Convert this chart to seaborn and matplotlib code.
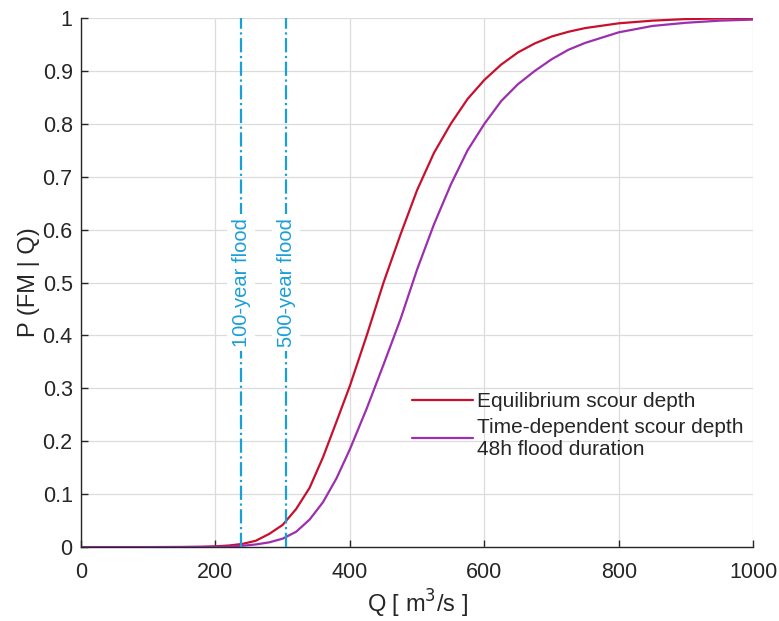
import numpy as np
import pandas as pd
import matplotlib
matplotlib.use("Agg")
import matplotlib.pyplot as plt
import seaborn as sns

# Equilibrium scour depth: caudal Q [m3/s] y P(FM | Q)
q_eq = [0, 100, 150, 180, 200, 220, 240, 260, 280, 300, 320, 340, 360, 380, 400, 425,
        450, 475, 500, 525, 550, 575, 600, 625, 650, 675, 700, 725, 750, 800, 850, 900,
        950, 1000]
p_eq = [0, 0, 0.0002, 0.0006, 0.0015, 0.003, 0.006, 0.012, 0.025, 0.042, 0.072, 0.112,
        0.17, 0.237, 0.305, 0.40, 0.50, 0.59, 0.675, 0.745, 0.80, 0.847, 0.883, 0.912,
        0.935, 0.952, 0.965, 0.974, 0.981, 0.99, 0.995, 0.998, 0.999, 1.0]

# Time-dependent scour depth (48h)
q_t = [0, 100, 150, 200, 220, 240, 260, 280, 300, 320, 340, 360, 380, 400, 425, 450,
       475, 500, 525, 550, 575, 600, 625, 650, 675, 700, 725, 750, 800, 850, 900, 950, 1000]
p_t = [0, 0, 0.0001, 0.0005, 0.001, 0.0025, 0.005, 0.009, 0.016, 0.029, 0.052, 0.085,
       0.13, 0.185, 0.262, 0.345, 0.43, 0.525, 0.61, 0.685, 0.75, 0.80, 0.843, 0.875,
       0.90, 0.922, 0.94, 0.953, 0.973, 0.985, 0.991, 0.995, 0.997]

serie_eq = "Equilibrium scour depth"
serie_t = "Time-dependent scour depth\n48h flood duration"

crecidas = [238, 305]
etiquetas_crecidas = ["100-year flood", "500-year flood"]

df = pd.DataFrame({
    "Q": q_eq + q_t,
    "P": p_eq + p_t,
    "serie": [serie_eq] * len(q_eq) + [serie_t] * len(q_t),
})

sns.set_style("white")
plt.rcParams["font.family"] = ["Liberation Sans", "DejaVu Sans"]
plt.rcParams["xtick.direction"] = "in"
plt.rcParams["ytick.direction"] = "in"

fig = plt.figure(figsize=(7.79, 6.21), dpi=100)
ax = fig.add_axes([0.104, 0.119, 0.863, 0.852])

colores = {serie_eq: "#c8102e", serie_t: "#9b2fae"}
sns.lineplot(data=df, x="Q", y="P", hue="serie", palette=colores, linewidth=1.6, ax=ax)

azul = "#1a9fd8"
for xq, txt in zip(crecidas, etiquetas_crecidas):
    ax.axvline(xq, color=azul, linestyle="-.", linewidth=1.6, zorder=3)
    ax.text(xq, 0.5, txt, rotation=90, color=azul, fontsize=14.5, ha="center", va="center",
            zorder=4, bbox=dict(facecolor="white", edgecolor="none", pad=3))

ax.set_xlim(0, 1000)
ax.set_ylim(0, 1)
ax.set_xticks([0, 200, 400, 600, 800, 1000])
ax.set_yticks(np.round(np.arange(0, 1.01, 0.1), 1))
ax.set_yticklabels(["0", "0.1", "0.2", "0.3", "0.4", "0.5", "0.6", "0.7", "0.8", "0.9", "1"])
ax.tick_params(labelsize=15.5, length=5, width=1, colors="#262626", bottom=True, left=True)
ax.tick_params(axis="x", pad=11)
ax.tick_params(axis="y", pad=6)
ax.grid(True, color="#dcdcdc", linewidth=0.9)
for lado in ["top", "right"]:
    ax.spines[lado].set_visible(False)
for lado in ["left", "bottom"]:
    ax.spines[lado].set_color("#262626")
    ax.spines[lado].set_linewidth(1)

ax.set_xlabel("Q [ m$^3$/s ]", fontsize=17, color="#262626", labelpad=3)
ax.set_ylabel("P (FM | Q)", fontsize=17, color="#262626", labelpad=2)

ax.legend(loc="upper left", bbox_to_anchor=(0.465, 0.328), frameon=False, fontsize=15,
          handlelength=2.9, handletextpad=0.2, labelspacing=0.3)

fig.savefig("out.png", dpi=100)
